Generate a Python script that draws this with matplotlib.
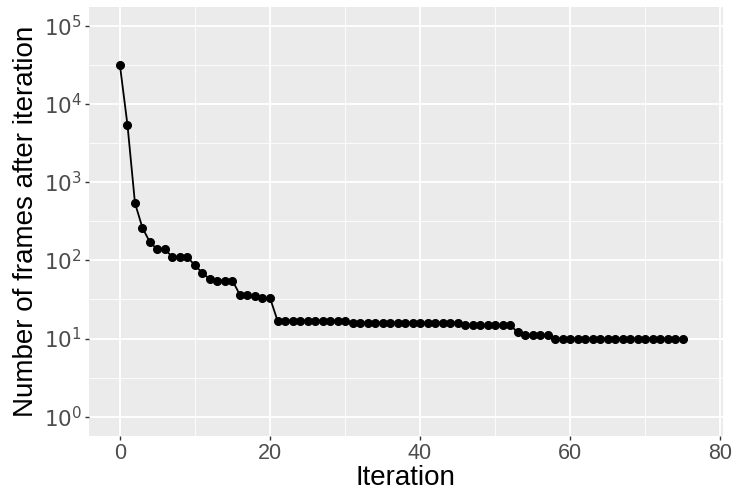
import numpy as np
import matplotlib.pyplot as plt
from matplotlib.ticker import FixedLocator, FuncFormatter

# data
iteration = np.arange(76)
frames = ([31000, 5400, 540, 260, 170, 138, 138, 110, 110, 110, 86, 69, 57, 55, 55, 55,
           36, 36, 35, 33, 33]
          + [17] * 10 + [16] * 15 + [15] * 7 + [12] + [11] * 4 + [10] * 18)

x_ticks = [0, 20, 40, 60, 80]
x_minor = [10, 30, 50, 70]
y_ticks = [1, 10, 100, 1000, 10000, 100000]
y_minor = [10 ** (k + 0.5) for k in range(-1, 6)]

plt.rcParams['font.family'] = ['Liberation Sans', 'DejaVu Sans']

fig = plt.figure(figsize=(7.39, 4.95), dpi=100)
ax = fig.add_axes([0.12, 0.119, 0.858, 0.867])
ax.set_facecolor('#EBEBEB')

ax.set_yscale('log')
ax.set_xlim(-4.17, 80.35)
ax.set_ylim(10 ** -0.247, 10 ** 5.24)

ax.xaxis.set_major_locator(FixedLocator(x_ticks))
ax.xaxis.set_minor_locator(FixedLocator(x_minor))
ax.yaxis.set_major_locator(FixedLocator(y_ticks))
ax.yaxis.set_minor_locator(FixedLocator(y_minor))
ax.yaxis.set_major_formatter(FuncFormatter(lambda v, p: r'$10^{%d}$' % round(np.log10(v))))

ax.grid(which='major', color='white', linewidth=1.3)
ax.grid(which='minor', color='white', linewidth=0.6)
ax.set_axisbelow(True)
for s in ax.spines.values():
    s.set_visible(False)

ax.tick_params(which='major', length=3, width=1, color='#333333',
               labelcolor='#4D4D4D', labelsize=15.5, pad=2)
ax.tick_params(which='minor', length=0)

ax.plot(iteration, frames, color='black', linewidth=1.3, marker='o',
        markersize=5.5, zorder=3)

ax.set_xlabel('Iteration', fontsize=20, labelpad=1)
ax.set_ylabel('Number of frames after iteration', fontsize=20, labelpad=3)

fig.savefig('out.png', dpi=100)
